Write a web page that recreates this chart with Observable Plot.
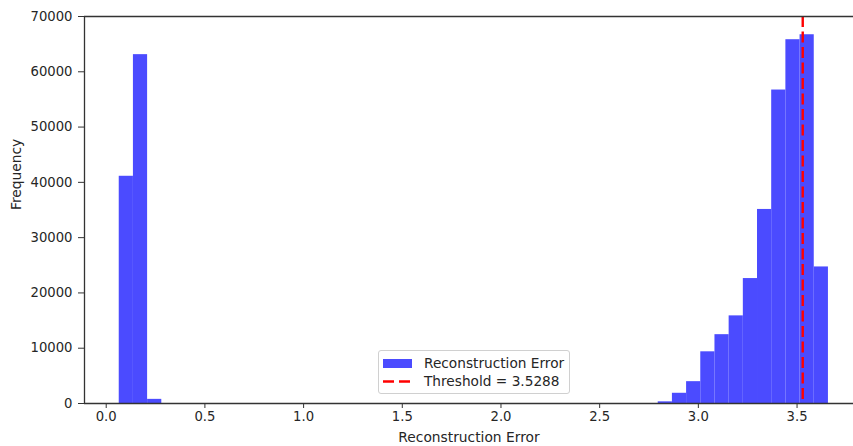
<!DOCTYPE html>
<html>
<head>
<meta charset="utf-8">
<script src="https://cdn.jsdelivr.net/npm/d3@7"></script>
<script src="https://cdn.jsdelivr.net/npm/@observablehq/plot@0.6"></script>
<style>
  html, body { margin: 0; padding: 0; background: #fff; overflow: hidden; }
  #wrap { position: relative; width: 853px; height: 446px; font-family: "DejaVu Sans", sans-serif; }
  #legend { position: absolute; left: 378px; top: 350px; width: 192px; height: 44px;
    border: 1px solid #d0d0d0; border-radius: 3px; background: rgba(255,255,255,0.85);
    box-sizing: border-box; font-size: 13.7px; color: #262626; }
  .row { position: absolute; left: 4px; height: 16px; display: flex; align-items: center; }
  .row svg { margin-right: 12px; }
</style>
</head>
<body>
<div id="wrap">
  <div id="chart"></div>
  <div id="legend">
    <div class="row" style="top:4px"><svg width="29" height="9"><rect width="29" height="9" fill="#4b4bff"></rect></svg><span>Reconstruction Error</span></div>
    <div class="row" style="top:22px"><svg width="29" height="9"><line x1="0" x2="29" y1="4.5" y2="4.5" stroke="red" stroke-width="2.4" stroke-dasharray="11,5"></line></svg><span>Threshold = 3.5288</span></div>
  </div>
</div>
<script>
// Histogram (50 bins between min and max error)
const errMin = 0.066;
const errMax = 3.659;
const binCounts = [
  41100, 63100, 750, 0, 0, 0, 0, 0, 0, 0,
  0, 0, 0, 0, 0, 0, 0, 0, 0, 0,
  0, 0, 0, 0, 0, 0, 0, 0, 0, 0,
  0, 0, 0, 0, 0, 0, 0, 0, 300, 1850,
  3950, 9350, 12450, 15850, 22600, 35100, 56700, 65800, 66700, 24700
];
const threshold = 3.5288;
const xTicks = [0.0, 0.5, 1.0, 1.5, 2.0, 2.5, 3.0, 3.5];
const yTicks = [0, 10000, 20000, 30000, 40000, 50000, 60000, 70000];
const xLabel = "Reconstruction Error";
const yLabel = "Frequency";

const binWidth = (errMax - errMin) / binCounts.length;
const bins = binCounts.map((c, i) => ({x1: errMin + i * binWidth, x2: errMin + (i + 1) * binWidth, count: c}));
const xDomain = [-0.110, 3.786];
const yDomain = [0, 70000];

const chart = Plot.plot({
  width: 853,
  height: 446,
  marginLeft: 84,
  marginRight: 0,
  marginTop: 16,
  marginBottom: 43,
  style: {fontFamily: "DejaVu Sans, sans-serif", fontSize: "13.2px", color: "#262626", background: "white"},
  x: {domain: xDomain},
  y: {domain: yDomain},
  marks: [
    Plot.rectY(bins.filter(d => d.count > 0), {x1: "x1", x2: "x2", y: "count", fill: "#4b4bff", inset: 0}),
    Plot.ruleX([threshold], {stroke: "red", strokeWidth: 2.4, strokeDasharray: "11,4.5"}),
    Plot.ruleX([xDomain[0]], {stroke: "#333", strokeWidth: 1.3}),
    Plot.ruleY([yDomain[0]], {stroke: "#333", strokeWidth: 1.3}),
    Plot.ruleY([yDomain[1]], {stroke: "#333", strokeWidth: 1.3}),
    Plot.axisX({ticks: xTicks, tickFormat: d3.format(".1f"), tickSize: 5, tickPadding: 3, label: null, stroke: "#333"}),
    Plot.axisY({ticks: yTicks, tickFormat: d3.format("d"), tickSize: 6, tickPadding: 6, label: null, stroke: "#333"}),
    Plot.text([xLabel], {text: d => d, frameAnchor: "bottom", dy: 38, fontSize: 13.8, fill: "#262626"}),
    Plot.text([yLabel], {text: d => d, frameAnchor: "left", dx: -68, rotate: -90, fontSize: 13.8, fill: "#262626"})
  ]
});
document.getElementById("chart").appendChild(chart);
</script>
</body>
</html>
